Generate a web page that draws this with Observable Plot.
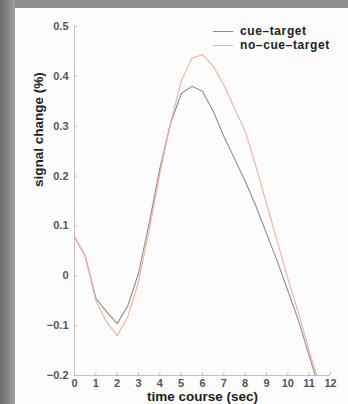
<!DOCTYPE html>
<html>
<head>
<meta charset="utf-8">
<script src="https://cdn.jsdelivr.net/npm/d3@7"></script>
<script src="https://cdn.jsdelivr.net/npm/@observablehq/plot@0.6"></script>
<style>
html,body{margin:0;padding:0;}
body{width:348px;height:404px;overflow:hidden;background:#8c8c8c;position:relative;font-family:"Liberation Sans",Arial,sans-serif;}
#leftstrip{position:absolute;left:0;top:0;width:15px;bottom:0;background:linear-gradient(to right,#6c6c6c,#8a8a8a 60%,#a0a0a0);}
#panel{position:absolute;left:15px;top:8px;right:0;bottom:0;background:#fcfcfc;}
#chart{position:absolute;left:0;top:0;}
#legend{position:absolute;left:213px;top:24px;font-weight:bold;font-size:12px;letter-spacing:0.6px;color:#222;}
.row{display:flex;align-items:center;height:14px;line-height:14px;}
.sw{width:20px;height:0;border-top:1px solid;margin-right:7px;}
</style>
</head>
<body>
<div id="leftstrip"></div>
<div id="panel"></div>
<div id="chart"></div>
<div id="legend"></div>
<script>
// time points (sec)
const times = [0,0.5,1,1.5,2,2.5,3,3.5,4,4.5,5,5.5,6,6.5,7,7.5,8,8.5,9,9.5,10,10.5,11,11.5];
// signal change (%) — cue-target
const cueTarget = [0.078,0.04,-0.045,-0.072,-0.096,-0.06,0.005,0.105,0.215,0.305,0.365,0.38,0.37,0.33,0.28,0.235,0.19,0.14,0.085,0.03,-0.03,-0.09,-0.16,-0.23];
// signal change (%) — no-cue-target
const noCueTarget = [0.078,0.04,-0.05,-0.092,-0.12,-0.082,-0.012,0.09,0.205,0.305,0.39,0.436,0.444,0.42,0.383,0.336,0.29,0.22,0.145,0.07,-0.005,-0.075,-0.15,-0.22];
const seriesNames = ["cue–target","no–cue–target"];
const seriesColors = ["#8e8e8e","#ecb39a"];
const xTicks = [0,1,2,3,4,5,6,7,8,9,10,11,12];
const yTicks = [-0.2,-0.1,0,0.1,0.2,0.3,0.4,0.5];
const xTitle = "time course (sec)";
const yTitle = "signal change (%)";

const rows = [];
times.forEach((t,i)=>{
  rows.push({t, v: cueTarget[i], s: seriesNames[0]});
  rows.push({t, v: noCueTarget[i], s: seriesNames[1]});
});

const axisColor = "#c9bdb7";
const tickFill = "#555";
const chart = Plot.plot({
  width: 348, height: 404,
  marginLeft: 74, marginRight: 18, marginTop: 26, marginBottom: 29,
  style: {background: "transparent", fontFamily: "'Liberation Sans', Arial, sans-serif"},
  x: {domain: [0,12]},
  y: {domain: [-0.2,0.5]},
  color: {domain: seriesNames, range: seriesColors},
  marks: [
    Plot.ruleY([-0.2], {stroke: axisColor}),
    Plot.ruleX([0], {stroke: axisColor}),
    Plot.axisX({ticks: xTicks, tickSize: -3, tickPadding: 7, tickFormat: d => String(d), fontSize: 11, fontWeight: "bold", fill: tickFill, stroke: axisColor, label: null}),
    Plot.axisY({ticks: yTicks, tickSize: -3, tickPadding: 9, tickFormat: d => d === 0 ? "0" : d3.format(".1f")(d).replace("-", "\u2212"), fontSize: 11, fontWeight: "bold", fill: tickFill, stroke: axisColor, label: null}),
    Plot.line(rows, {x: "t", y: "v", z: "s", stroke: "s", strokeWidth: 1.1, clip: true}),
    Plot.text([xTitle], {frameAnchor: "bottom", dy: 21, text: d => d, fontSize: 13.5, fontWeight: "bold", fill: "#222", lineAnchor: "middle"}),
    Plot.text([yTitle], {frameAnchor: "left", dx: -36, dy: -14, rotate: -90, text: d => d, fontSize: 13.5, fontWeight: "bold", fill: "#222", lineAnchor: "middle"})
  ]
});
document.getElementById("chart").appendChild(chart);

const legend = document.getElementById("legend");
seriesNames.forEach((n,i)=>{
  const r = document.createElement("div");
  r.className = "row";
  const sw = document.createElement("span");
  sw.className = "sw";
  sw.style.borderTopColor = seriesColors[i];
  const tx = document.createElement("span");
  tx.textContent = n;
  r.appendChild(sw); r.appendChild(tx);
  legend.appendChild(r);
});
</script>
</body>
</html>
